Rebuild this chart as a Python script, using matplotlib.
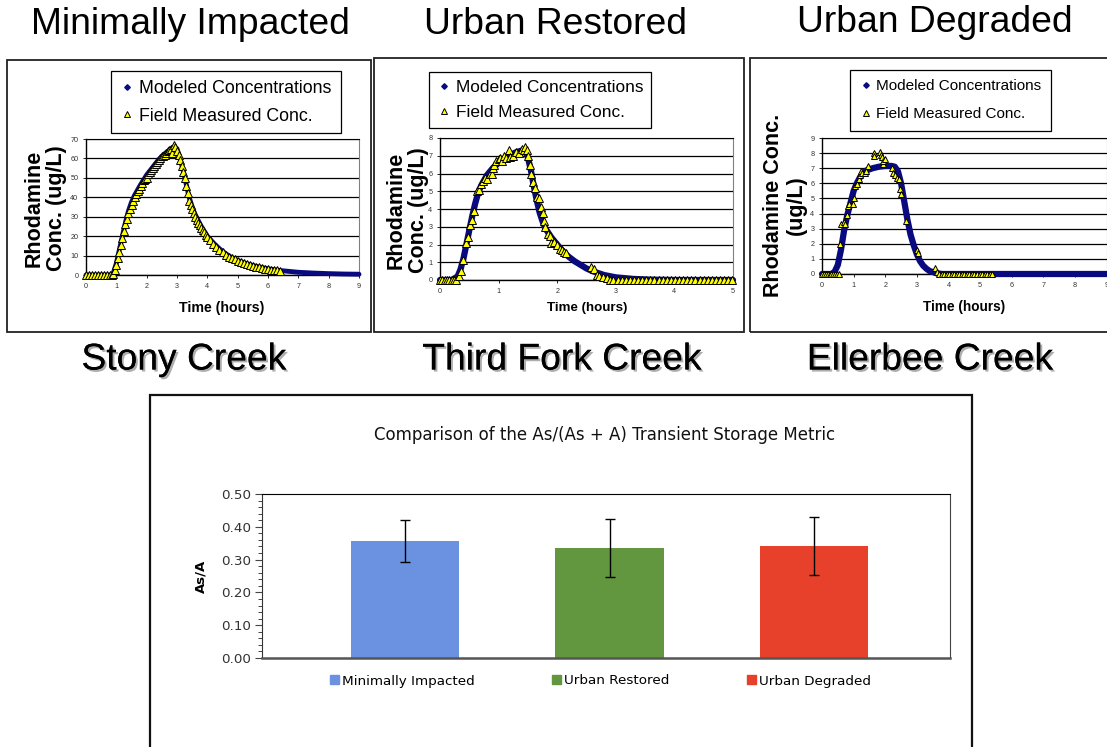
import matplotlib
matplotlib.use("Agg")
import matplotlib.pyplot as plt
from matplotlib.patches import Rectangle
from matplotlib.lines import Line2D
import matplotlib.patheffects as pe
from matplotlib.ticker import MultipleLocator

W, H = 1107, 747

# ---------------- data ----------------
# Stony Creek (Minimally Impacted)
stony_model_t = [0, 0.8, 0.9, 1.0, 1.1, 1.2, 1.3, 1.4, 1.5, 1.6, 1.8, 2.0, 2.2, 2.4, 2.6, 2.8, 2.9,
                 3.0, 3.1, 3.2, 3.3, 3.4, 3.5, 3.6, 3.8, 4.0, 4.2, 4.4, 4.6, 4.8, 5.0, 5.3, 5.6,
                 6.0, 6.4, 7.0, 7.5, 8.0, 8.5, 9.0]
stony_model_c = [0, 0, 1, 6, 13, 20, 27, 33, 37.5, 41, 46.5, 51.5, 55.5, 59.5, 62.5, 65, 66,
                 65, 60, 54, 47, 40, 35, 31, 25, 20, 16.5, 13.5, 11, 9, 7.5, 5.8, 4.5,
                 3.2, 2.3, 1.4, 1.0, 0.7, 0.5, 0.4]
stony_field_t = [0.0, 0.1, 0.2, 0.3, 0.4, 0.5, 0.6, 0.7, 0.8, 0.85, 0.9, 0.95, 1.0, 1.05, 1.1,
                 1.15, 1.2, 1.25, 1.3, 1.35, 1.4, 1.45, 1.5, 1.55, 1.6, 1.65, 1.7, 1.75, 1.8,
                 1.85, 1.9, 1.95, 2.0, 2.05, 2.1, 2.15, 2.2, 2.25, 2.3, 2.35, 2.4, 2.45, 2.5,
                 2.55, 2.6, 2.65, 2.7, 2.75, 2.8, 2.85, 2.9, 2.95, 3.0, 3.05, 3.1, 3.15, 3.2,
                 3.25, 3.3, 3.35, 3.4, 3.45, 3.5, 3.55, 3.6, 3.65, 3.7, 3.75, 3.8, 3.85, 3.9,
                 3.95, 4.0, 4.1, 4.2, 4.3, 4.4, 4.5, 4.6, 4.7, 4.8, 4.9, 5.0, 5.1, 5.2, 5.3,
                 5.4, 5.5, 5.6, 5.7, 5.8, 5.9, 6.0, 6.1, 6.2, 6.3, 6.4]
stony_field_c = [0, 0, 0, 0, 0, 0, 0, 0, 0, 0, 0.5, 2.5, 5, 8.5, 12,
                 15.5, 19, 22.5, 26, 29, 32, 34, 36, 38, 40, 41.5, 43, 44.5, 46,
                 47.5, 49, 49.5, 50, 52, 53, 54, 55, 56, 57, 58, 59, 60, 61,
                 61.5, 62, 63, 64, 64.5, 65, 63, 67, 66, 64, 62, 59, 56, 53,
                 50, 46, 42, 38, 36, 34, 32, 30, 28.5, 27, 25.5, 24, 23, 22,
                 20.5, 19.5, 18, 16, 14.5, 13, 12, 10.5, 9.5, 8.5, 8, 7, 6.5, 6, 5.5,
                 5, 4.6, 4.2, 3.9, 3.6, 3.3, 3, 2.8, 2.6, 2.4, 2.2]

# Third Fork Creek (Urban Restored)
third_model_t = [0, 0.2, 0.3, 0.35, 0.4, 0.45, 0.5, 0.55, 0.6, 0.65, 0.7, 0.8, 0.9, 1.0, 1.1,
                 1.2, 1.3, 1.4, 1.45, 1.5, 1.55, 1.6, 1.65, 1.7, 1.75, 1.8, 1.9, 2.0, 2.1, 2.2,
                 2.3, 2.4, 2.5, 2.6, 2.8, 3.0, 3.3, 3.6, 4.0, 5.0]
third_model_c = [0, 0, 0.2, 0.6, 1.2, 2.0, 2.8, 3.6, 4.3, 4.9, 5.3, 5.9, 6.3, 6.6, 6.85,
                 7.05, 7.2, 7.3, 7.3, 6.9, 6.2, 5.3, 4.5, 3.8, 3.3, 2.9, 2.4, 2.0, 1.6, 1.3,
                 1.05, 0.85, 0.65, 0.5, 0.28, 0.15, 0.06, 0.02, 0.0, 0.0]
third_field_t = [0.0, 0.04, 0.08, 0.12, 0.16, 0.2, 0.24, 0.28, 0.32, 0.35, 0.4, 0.45, 0.48,
                 0.52, 0.55, 0.58, 0.63, 0.66, 0.7, 0.73, 0.77, 0.8, 0.85, 0.88, 0.9, 0.93,
                 0.96, 1.0, 1.03, 1.06, 1.1, 1.13, 1.18, 1.2, 1.25, 1.3, 1.35, 1.4, 1.43, 1.45,
                 1.48, 1.5, 1.53, 1.56, 1.59, 1.62, 1.66, 1.69, 1.72, 1.75, 1.78, 1.8, 1.84,
                 1.87, 1.9, 1.95, 2.0, 2.05, 2.08, 2.12, 2.15, 2.57, 2.62, 2.68, 2.72, 2.78,
                 2.85, 2.9, 2.96, 3.03, 3.1, 3.17, 3.24, 3.31, 3.38, 3.45, 3.52, 3.59, 3.66,
                 3.73, 3.8, 3.87, 3.94, 4.01, 4.08, 4.15, 4.22, 4.29, 4.36, 4.43, 4.5, 4.57,
                 4.64, 4.71, 4.78, 4.85, 4.92, 4.99]
third_field_c = [0, 0, 0, 0, 0, 0, 0, 0, 0.25, 0.5, 1.1, 2.1, 2.4,
                 3.1, 3.4, 3.9, 5.0, 5.05, 5.4, 5.6, 5.75, 5.7, 5.95, 6.0, 6.3, 6.5,
                 6.7, 6.8, 6.9, 6.7, 7.0, 6.9, 7.3, 6.95, 7.0, 7.2, 7.15, 7.4, 7.3, 7.5,
                 7.35, 7.0, 6.5, 6.0, 5.5, 5.2, 4.65, 4.6, 4.1, 3.8, 3.35, 3.0, 2.6,
                 2.5, 2.1, 2.15, 2.0, 1.75, 1.7, 1.6, 1.5, 0.75, 0.6, 0.3, 0.25, 0.15,
                 0.1, 0, 0, 0, 0, 0, 0, 0, 0, 0, 0, 0, 0,
                 0, 0, 0, 0, 0, 0, 0, 0, 0, 0, 0, 0, 0,
                 0, 0, 0, 0, 0, 0]

# Ellerbee Creek (Urban Degraded)
eller_model_t = [0, 0.3, 0.4, 0.5, 0.6, 0.7, 0.8, 0.9, 1.0, 1.1, 1.2, 1.3, 1.4, 1.6, 1.8, 2.0,
                 2.2, 2.3, 2.4, 2.5, 2.6, 2.7, 2.8, 2.9, 3.0, 3.1, 3.2, 3.3, 3.4, 3.6, 3.8, 9.0]
eller_model_c = [0, 0, 0.15, 0.6, 1.6, 2.9, 3.9, 4.7, 5.5, 6.0, 6.4, 6.7, 6.85, 7.0, 7.1, 7.15,
                 7.15, 7.1, 6.8, 6.0, 4.8, 3.6, 2.6, 1.9, 1.3, 0.85, 0.55, 0.35, 0.2, 0.06, 0.0, 0.0]
eller_field_t = [0.0, 0.06, 0.12, 0.18, 0.24, 0.3, 0.36, 0.42, 0.48, 0.54, 0.58, 0.61, 0.68,
                 0.73, 0.79, 0.82, 0.84, 0.97, 1.0, 1.03, 1.1, 1.16, 1.21, 1.24, 1.28, 1.35,
                 1.39, 1.45, 1.63, 1.63, 1.84, 1.87, 1.89, 1.92, 1.94, 2.0, 2.21, 2.26, 2.31,
                 2.37, 2.42, 2.47, 2.49, 2.65, 3.0, 3.03, 3.57, 3.62, 3.7, 3.78, 3.86, 3.94,
                 4.02, 4.1, 4.18, 4.26, 4.34, 4.42, 4.5, 4.58, 4.66, 4.74, 4.82, 4.9, 4.98,
                 5.06, 5.14, 5.22, 5.3, 5.38]
eller_field_c = [0, 0, 0, 0, 0, 0, 0, 0, 0, 0, 1.97, 3.3, 3.45,
                 3.33, 3.93, 4.5, 4.6, 4.6, 5.06, 5.83, 5.94, 6.27, 6.53, 6.82, 6.67, 6.71,
                 6.82, 7.15, 8.03, 7.8, 8.08, 7.9, 7.77, 7.3, 7.5, 7.6, 7.0, 6.7, 6.53,
                 6.38, 6.27, 5.6, 5.27, 3.5, 1.6, 1.4, 0.42, 0.1, 0, 0, 0, 0,
                 0, 0, 0, 0, 0, 0, 0, 0, 0, 0, 0, 0, 0,
                 0, 0, 0, 0, 0]

# Bar chart
groups = ["Minimally Impacted", "Urban Restored", "Urban Degraded"]
ratio_mean = [0.357, 0.335, 0.342]
ratio_err = [0.065, 0.089, 0.089]
bar_colors = ["#6A92E0", "#62963F", "#E8412B"]

panel_titles = ["Minimally Impacted", "Urban Restored", "Urban Degraded"]
creek_names = ["Stony Creek", "Third Fork Creek", "Ellerbee Creek"]

# ---------------- figure ----------------
fig = plt.figure(figsize=(W / 100, H / 100), dpi=100)
fig.patch.set_facecolor("white")
SANS = ["Liberation Sans", "DejaVu Sans"]


def fx(px):
    return px / W


def fy(py):
    return 1 - py / H


def add_axes_px(x0, y0, x1, y1):
    return fig.add_axes([fx(x0), fy(y1), (x1 - x0) / W, (y1 - y0) / H])


def frame_px(x0, y0, x1, y1, lw=1.3, color="#222222"):
    fig.patches.append(Rectangle((fx(x0), fy(y1)), (x1 - x0) / W, (y1 - y0) / H,
                                 transform=fig.transFigure, fill=False, lw=lw,
                                 edgecolor=color, zorder=0))


# panel frames
frame_px(7, 60, 371, 332)
frame_px(374, 58, 744, 332)
frame_px(750, 58, 1112, 332)

# big titles
for txt, cx, cy in zip(panel_titles, [190, 556, 935], [25, 25, 23]):
    fig.text(fx(cx), fy(cy), txt, ha="center", va="center", fontsize=26.8, family=SANS)
for txt, cx, cy in zip(creek_names, [184, 562, 930], [360, 360, 360]):
    fig.text(fx(cx), fy(cy), txt, ha="center", va="center", fontsize=26.8, family=SANS,
             path_effects=[pe.withSimplePatchShadow(offset=(1.5, -1.5), shadow_rgbFace="#9a9a9a", alpha=0.8),
                           pe.Normal()])

panels = [
    dict(box=(86, 139, 359, 275), xmax=9, ymax=70, ystep=10,
         mt=stony_model_t, mc=stony_model_c, ft=stony_field_t, fc=stony_field_c,
         mlw=3.5, ms=6.2, ylabel="Rhodamine\nConc. (ug/L)", ylx=45, yly=208,
         xl=(222, 308), xlfs=10.2,
         leg=(111, 71), legfs=12.8, lsp=0.6, bpad=0.5),
    dict(box=(440, 138, 733, 280), xmax=5, ymax=8, ystep=1,
         mt=third_model_t, mc=third_model_c, ft=third_field_t, fc=third_field_c,
         mlw=4.5, ms=6, ylabel="Rhodamine\nConc. (ug/L)", ylx=407, yly=210,
         xl=(587, 308), xlfs=9.6,
         leg=(429, 72), legfs=12.4, lsp=0.58, bpad=0.45),
    dict(box=(822, 138, 1106.7, 274), xmax=9, ymax=9, ystep=1,
         mt=eller_model_t, mc=eller_model_c, ft=eller_field_t, fc=eller_field_c,
         mlw=4.5, ms=3.8, ylabel="Rhodamine Conc.\n(ug/L)", ylx=785, yly=205,
         xl=(964, 307), xlfs=9.8,
         leg=(850, 70), legfs=11.0, lsp=0.9, bpad=0.62),
]

NAVY = "#0A0A80"
for p in panels:
    x0, y0, x1, y1 = p["box"]
    ax = add_axes_px(x0, y0, x1, y1)
    ax.set_xlim(0, p["xmax"])
    ax.set_ylim(0, p["ymax"])
    ax.yaxis.set_major_locator(MultipleLocator(p["ystep"]))
    ax.xaxis.set_major_locator(MultipleLocator(1))
    ax.grid(axis="y", color="black", lw=0.9)
    ax.set_axisbelow(True)
    ax.plot(p["mt"], p["mc"], color=NAVY, lw=p["mlw"], solid_capstyle="round", zorder=3,
            clip_on=False)
    ax.plot(p["ft"], p["fc"], ls="none", marker="^", ms=p["ms"], mfc="#FFFF00", mec="black",
            mew=0.7, zorder=4, clip_on=False)
    for s in ["left", "bottom"]:
        ax.spines[s].set_color("black")
        ax.spines[s].set_linewidth(1.0)
    ax.spines["top"].set_color("black")
    ax.spines["right"].set_color("#808080")
    ax.tick_params(labelsize=5.2, labelcolor="#333333", length=2.5, width=0.6, pad=3)
    for lab in ax.get_xticklabels() + ax.get_yticklabels():
        lab.set_family(SANS)
    fig.text(fx(p["ylx"]), fy(p["yly"]), p["ylabel"], rotation=90, ha="center", va="center",
             fontsize=15.5, fontweight="bold", family=SANS, linespacing=1.1)
    fig.text(fx(p["xl"][0]), fy(p["xl"][1]), "Time (hours)", ha="center", va="center",
             fontsize=p["xlfs"], fontweight="bold", family=SANS)
    handles = [Line2D([], [], ls="none", marker="D", ms=2.8, mfc=NAVY, mec=NAVY),
               Line2D([], [], ls="none", marker="^", ms=5, mfc="#FFFF00", mec="black", mew=0.7)]
    leg = ax.legend(handles, ["Modeled Concentrations", "Field Measured Conc."],
                    loc="upper left", bbox_to_anchor=(fx(p["leg"][0]), fy(p["leg"][1])),
                    bbox_transform=fig.transFigure, borderaxespad=0, frameon=True,
                    fancybox=False, edgecolor="black", framealpha=1,
                    prop=dict(family=SANS, size=p["legfs"]), handlelength=0.8,
                    handletextpad=0.3, borderpad=p["bpad"], labelspacing=p["lsp"])
    leg.get_frame().set_linewidth(0.9)

# ---------------- bar chart ----------------
frame_px(150, 395, 972, 760, lw=1.6, color="#111111")
bx = add_axes_px(262, 494, 950, 658)
xs = list(range(len(groups)))
bars = bx.bar(xs, ratio_mean, width=0.53, color=bar_colors, zorder=2)
bx.errorbar(xs, ratio_mean, yerr=ratio_err, fmt="none", ecolor="black", elinewidth=1.0,
            capsize=3.5, capthick=1.0, zorder=3)
bx.set_xlim(-0.70, 2.665)
bx.set_ylim(0, 0.5)
bx.yaxis.set_major_locator(MultipleLocator(0.1))
bx.yaxis.set_minor_locator(MultipleLocator(0.02))
bx.yaxis.set_major_formatter(matplotlib.ticker.FormatStrFormatter("%.2f"))
bx.set_xticks([])
bx.tick_params(axis="y", which="major", length=5, width=0.8, labelsize=9.7, labelcolor="#333333",
               color="#444444", pad=3)
bx.tick_params(axis="y", which="minor", length=3, width=0.7, color="#444444")
for lab in bx.get_yticklabels():
    lab.set_family("DejaVu Sans")
bx.spines["bottom"].set_color("#555555")
bx.spines["bottom"].set_linewidth(1.8)
bx.spines["left"].set_color("#333333")
bx.spines["right"].set_color("#444444")
bx.spines["top"].set_color("black")
fig.text(fx(605), fy(435), "Comparison of the As/(As + A) Transient Storage Metric",
         ha="center", va="center", fontsize=12.0, family="DejaVu Sans", color="#111111")
fig.text(fx(201), fy(576), "As/A", rotation=90, ha="center", va="center", fontsize=9.5,
         fontweight="bold", family="DejaVu Sans")
blh = [Rectangle((0, 0), 1, 1, color=c) for c in bar_colors]
bx.legend(blh, groups, loc="center left", bbox_to_anchor=(fx(330), fy(681)),
          bbox_transform=fig.transFigure, ncol=3, frameon=False, borderaxespad=0,
          borderpad=0, handlelength=0.65, handleheight=0.65, handletextpad=0.25,
          columnspacing=5.75, prop=dict(family="DejaVu Sans", size=9.7))

fig.savefig("out.png", dpi=100, facecolor="white")
